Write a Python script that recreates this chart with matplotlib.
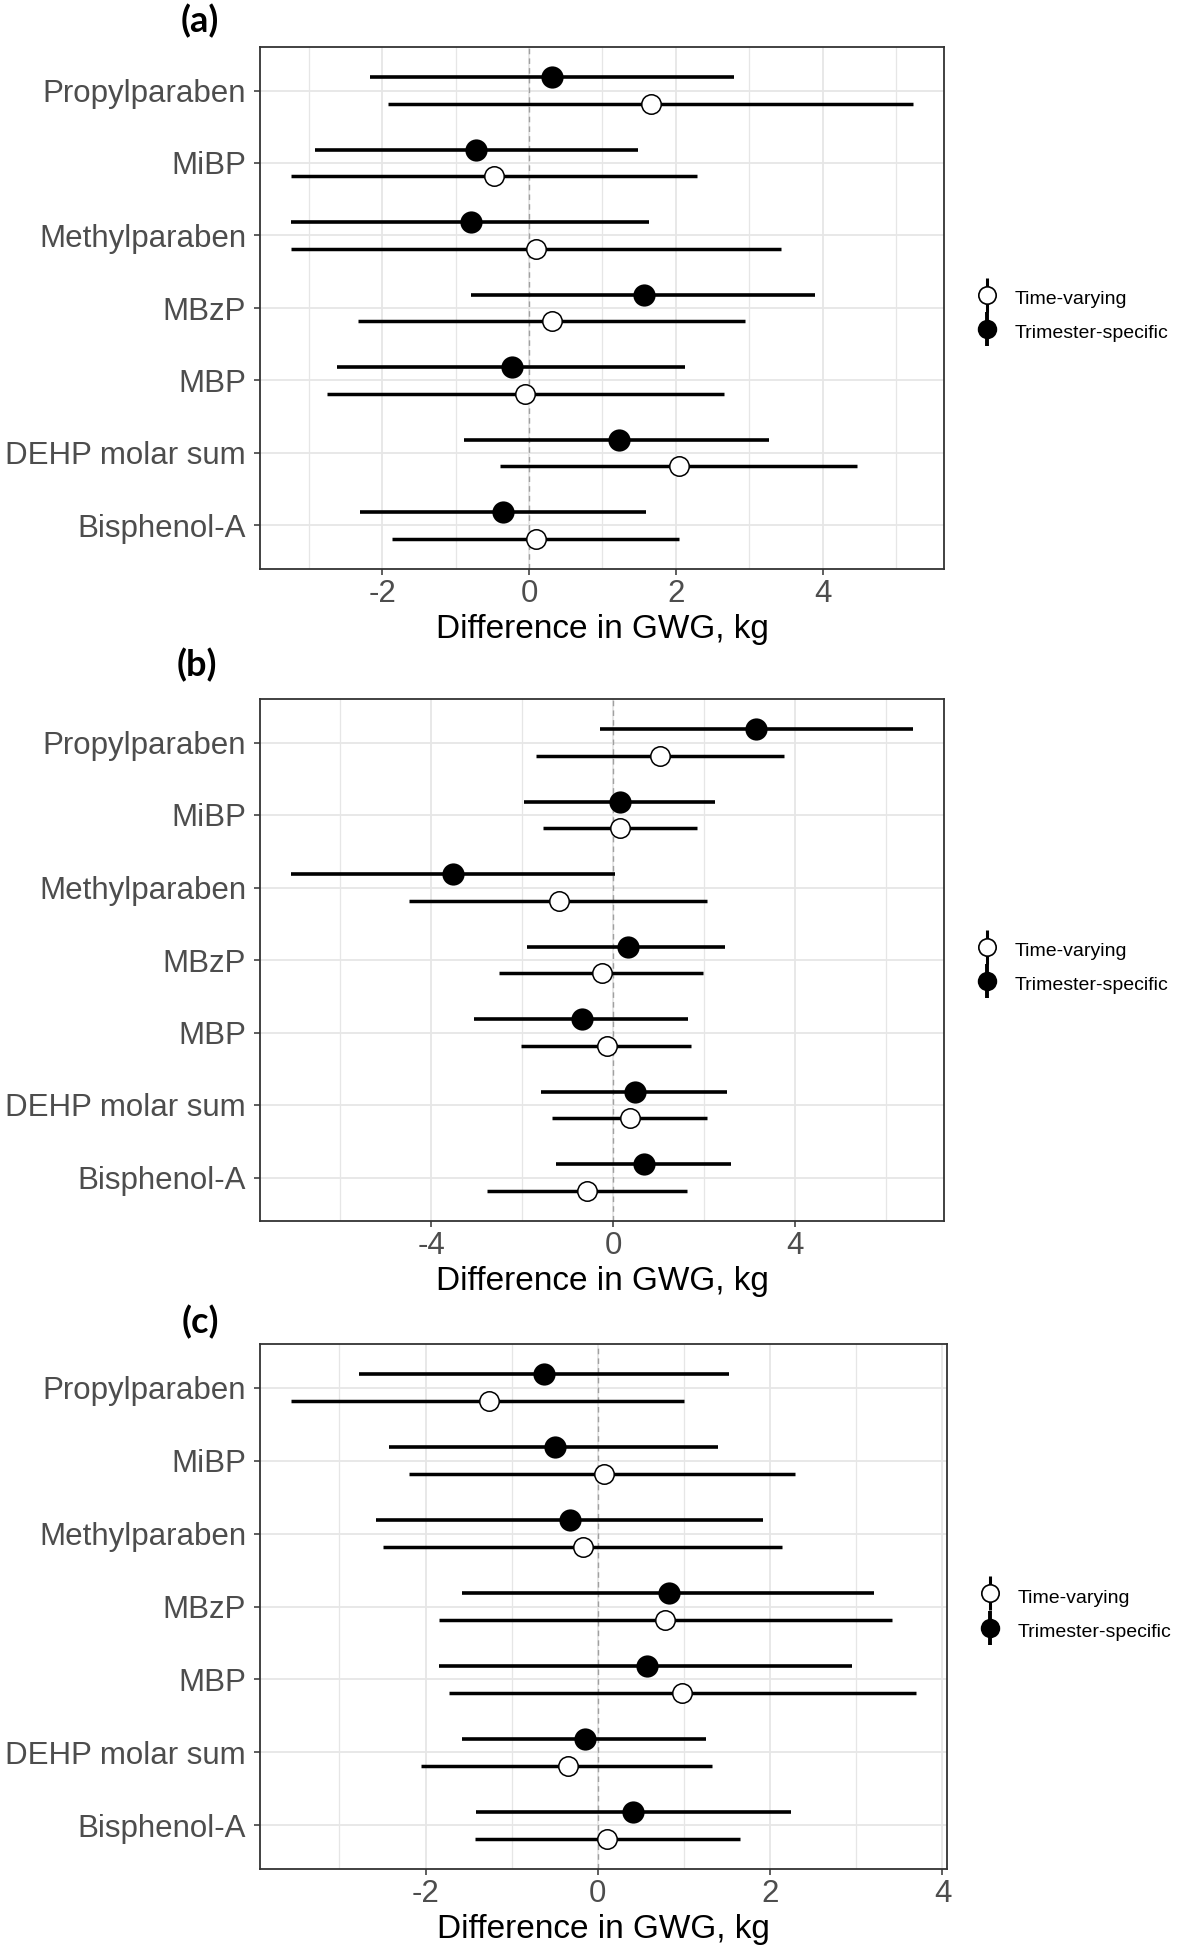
"""Forest plots of GWG differences by chemical, three panels."""
import numpy as np
import matplotlib
matplotlib.use("Agg")
import matplotlib.pyplot as plt
from matplotlib.lines import Line2D
from matplotlib.legend_handler import HandlerTuple

plt.rcParams["font.family"] = ["Liberation Sans", "DejaVu Sans"]
plt.rcParams["axes.unicode_minus"] = False

chemicals = ["Propylparaben", "MiBP", "Methylparaben", "MBzP", "MBP",
             "DEHP molar sum", "Bisphenol-A"]
series_names = ["Time-varying", "Trimester-specific"]
panel_names = ["(a)", "(b)", "(c)"]

# Panel (a)
a_tv_est = [1.66, -0.47, 0.10, 0.32, -0.05, 2.04, 0.10]
a_tv_lo = [-1.92, -3.24, -3.24, -2.33, -2.75, -0.40, -1.87]
a_tv_hi = [5.23, 2.29, 3.43, 2.94, 2.65, 4.47, 2.04]
a_ts_est = [0.32, -0.72, -0.79, 1.57, -0.23, 1.22, -0.36]
a_ts_lo = [-2.17, -2.91, -3.24, -0.79, -2.62, -0.88, -2.30]
a_ts_hi = [2.79, 1.48, 1.64, 3.90, 2.13, 3.27, 1.59]

# Panel (b)
b_tv_est = [1.04, 0.15, -1.20, -0.25, -0.13, 0.37, -0.58]
b_tv_lo = [-1.69, -1.55, -4.49, -2.50, -2.02, -1.34, -2.77]
b_tv_hi = [3.76, 1.84, 2.07, 1.97, 1.72, 2.07, 1.62]
b_ts_est = [3.14, 0.15, -3.51, 0.32, -0.68, 0.48, 0.68]
b_ts_lo = [-0.28, -1.95, -7.08, -1.89, -3.06, -1.59, -1.25]
b_ts_hi = [6.59, 2.24, 0.03, 2.47, 1.65, 2.50, 2.60]

# Panel (c)
c_tv_est = [-1.26, 0.07, -0.17, 0.78, 0.98, -0.35, 0.11]
c_tv_lo = [-3.56, -2.19, -2.50, -1.85, -1.73, -2.05, -1.43]
c_tv_hi = [1.00, 2.29, 2.14, 3.41, 3.69, 1.32, 1.65]
c_ts_est = [-0.63, -0.50, -0.32, 0.83, 0.57, -0.15, 0.41]
c_ts_lo = [-2.77, -2.43, -2.58, -1.58, -1.84, -1.58, -1.41]
c_ts_hi = [1.52, 1.39, 1.92, 3.21, 2.95, 1.25, 2.24]

a_major, a_minor = [-2, 0, 2, 4], [-3, -1, 1, 3, 5]
b_major, b_minor = [-4, 0, 4], [-6, -2, 2, 6]
c_major, c_minor = [-2, 0, 2, 4], [-3, -1, 1, 3]

W, H = 1184, 1950
DODGE = 0.185
TEXT_GREY = "#4D4D4D"
GRID = "#E6E6E6"


def box(left, top, right, bottom):
    """Pixel box -> figure fraction rect."""
    return [left / W, 1 - bottom / H, (right - left) / W, (bottom - top) / H]


def plot_panel(ax, tv, ts, major, minor):
    y = np.arange(len(chemicals))[::-1] + 1.0
    lo_all = min(min(tv[1]), min(ts[1]))
    hi_all = max(max(tv[2]), max(ts[2]))
    pad = 0.05 * (hi_all - lo_all)
    ax.set_xlim(lo_all - pad, hi_all + pad)
    ax.set_ylim(0.4, len(chemicals) + 0.6)

    ax.set_xticks(major)
    ax.set_xticks(minor, minor=True)
    ax.set_yticks(y)
    ax.set_yticklabels(chemicals)
    ax.grid(True, which="major", color=GRID, lw=1.3, zorder=0)
    ax.grid(True, which="minor", axis="x", color=GRID, lw=0.9, zorder=0)
    ax.set_axisbelow(True)
    ax.axvline(0, color="#A0A0A0", lw=1.0, ls=(0, (4, 3)), zorder=1)

    est, lo, hi = (np.array(v) for v in tv)
    ax.errorbar(est, y - DODGE, xerr=[est - lo, hi - est], fmt="o",
                ms=14, mfc="white", mec="black", mew=1.1,
                ecolor="black", elinewidth=2.5, capsize=0, zorder=3)
    est, lo, hi = (np.array(v) for v in ts)
    ax.errorbar(est, y + DODGE, xerr=[est - lo, hi - est], fmt="o",
                ms=16, mfc="black", mec="black", mew=0,
                ecolor="black", elinewidth=2.6, capsize=0, zorder=3)

    ax.tick_params(axis="both", which="major", labelsize=22.5,
                   labelcolor=TEXT_GREY, color="#333333", length=4, width=1.1)
    ax.tick_params(axis="y", pad=6)
    ax.tick_params(axis="x", pad=3)
    ax.tick_params(which="minor", length=0)
    for s in ax.spines.values():
        s.set_color("#333333")
        s.set_linewidth(1.3)
    ax.set_xlabel("Difference in GWG, kg", fontsize=24, color="black",
                  labelpad=4)

    handles = [
        (Line2D([], [], marker="|", ms=24, mew=2.2, color="black", ls="none"),
         Line2D([], [], marker="o", ms=12.5, mfc="white", mec="black",
                mew=1.2, ls="none")),
        (Line2D([], [], marker="|", ms=24, mew=2.8, color="black", ls="none"),
         Line2D([], [], marker="o", ms=14, mfc="black", mec="black",
                mew=0, ls="none")),
    ]
    ax.legend(handles, series_names, loc="center left",
              bbox_to_anchor=(1.046, 0.487), frameon=False, fontsize=14,
              handler_map={tuple: HandlerTuple(ndivide=1)},
              handlelength=1.2, handleheight=1.5, handletextpad=0.8,
              labelspacing=0.55, borderpad=0, borderaxespad=0)


fig = plt.figure(figsize=(W / 100, H / 100), dpi=100)
boxes = [box(260, 47, 944, 569), box(260, 699, 944, 1221),
         box(260, 1344, 947, 1869)]
data = [((a_tv_est, a_tv_lo, a_tv_hi), (a_ts_est, a_ts_lo, a_ts_hi),
         a_major, a_minor),
        ((b_tv_est, b_tv_lo, b_tv_hi), (b_ts_est, b_ts_lo, b_ts_hi),
         b_major, b_minor),
        ((c_tv_est, c_tv_lo, c_tv_hi), (c_ts_est, c_ts_lo, c_ts_hi),
         c_major, c_minor)]
label_pos = [(200, 21), (197, 665), (200, 1322)]

for rect, (tv, ts, major, minor), name, (lx, ly) in zip(boxes, data,
                                                        panel_names,
                                                        label_pos):
    ax = fig.add_axes(rect)
    plot_panel(ax, tv, ts, major, minor)
    fig.text(lx / W, 1 - ly / H, name, ha="center", va="center",
             fontsize=26, fontweight="bold", family=["Lato", "DejaVu Sans"])

fig.savefig("out.png", dpi=100, facecolor="white")
